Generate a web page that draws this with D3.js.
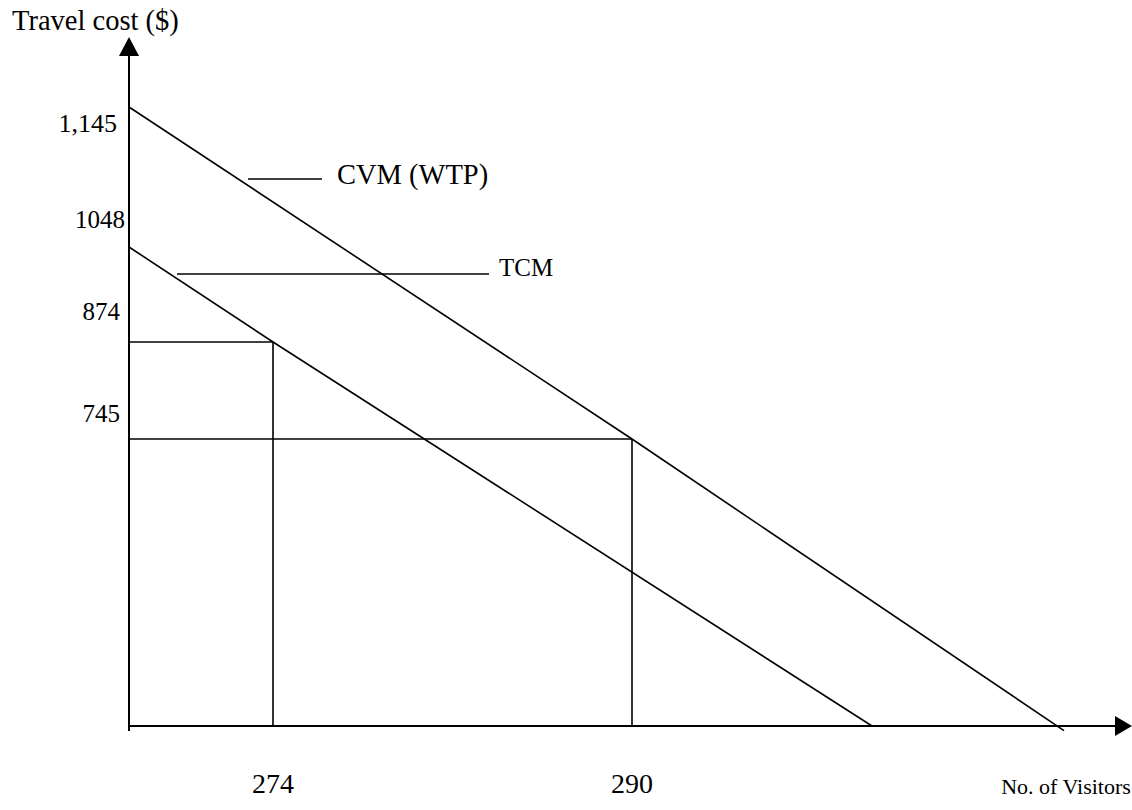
<!DOCTYPE html>
<html>
<head>
<meta charset="utf-8">
<script src="https://cdn.jsdelivr.net/npm/d3@7"></script>
<style>
  html, body { margin: 0; padding: 0; background: #fff; }
  svg { display: block; }
  text { font-family: "Liberation Serif", "Times New Roman", serif; fill: #000; }
</style>
</head>
<body>
<svg id="chart" width="1132" height="810"></svg>
<script>
// ---- data ----
const priceTicks = [1145, 1048, 874, 745];
const priceTickLabels = ["1,145", "1048", "874", "745"];
const visitorTicks = [274, 290];
const visitorTickLabels = ["274", "290"];
// demand curves (schematic): [visitors, travel cost]
const cvmCurve = [[0, 1145], [290, 745], [315, -12]];
const tcmCurve = [[0, 1048], [274, 874], [305, 0]];
const seriesNames = ["CVM (WTP)", "TCM"];
const axisTitles = { y: "Travel cost ($)", x: "No. of Visitors" };

// ---- layout (schematic, piecewise scales) ----
const svg = d3.select("#chart");
const x = d3.scaleLinear()
  .domain([0, 274, 290, 305, 315])
  .range([129, 273, 632, 872, 1064]);
const y = d3.scaleLinear()
  .domain([0, 745, 874, 1048, 1145])
  .range([726, 439, 342, 247, 107]);

const line = d3.line().x(d => x(d[0])).y(d => y(d[1]));

// axes
svg.append("line").attr("x1", x(0)).attr("x2", 1118).attr("y1", y(0)).attr("y2", y(0))
  .attr("stroke", "#000").attr("stroke-width", 2);
svg.append("line").attr("x1", x(0)).attr("x2", x(0)).attr("y1", y(0) + 5).attr("y2", 52)
  .attr("stroke", "#000").attr("stroke-width", 2);
// arrowheads
svg.append("path").attr("d", `M${x(0)},37 L${x(0) - 10},56 L${x(0) + 10},56 Z`).attr("fill", "#000");
svg.append("path").attr("d", `M1132,${y(0)} L1115,${y(0) - 10} L1115,${y(0) + 10} Z`).attr("fill", "#000");

// reference rectangles (price/quantity guides)
const guides = [[274, 874], [290, 745]];
guides.forEach(([q, p]) => {
  svg.append("line").attr("x1", x(0)).attr("x2", x(q)).attr("y1", y(p)).attr("y2", y(p))
    .attr("stroke", "#000").attr("stroke-width", 1.6);
  svg.append("line").attr("x1", x(q)).attr("x2", x(q)).attr("y1", y(p)).attr("y2", y(0))
    .attr("stroke", "#000").attr("stroke-width", 1.6);
});

// demand curves
[cvmCurve, tcmCurve].forEach(c => {
  svg.append("path").attr("d", line(c)).attr("fill", "none")
    .attr("stroke", "#000").attr("stroke-width", 1.6);
});

// y tick labels
const yLabelOffsets = [25, -19, -22, -17];
const yLabelRight = [117, 125, 120, 120];
priceTicks.forEach((v, i) => {
  svg.append("text").attr("x", yLabelRight[i]).attr("y", y(v) + yLabelOffsets[i])
    .attr("text-anchor", "end").attr("font-size", i === 0 ? 26 : 25).text(priceTickLabels[i]);
});

// x tick labels
visitorTicks.forEach((v, i) => {
  svg.append("text").attr("x", x(v)).attr("y", 793)
    .attr("text-anchor", "middle").attr("font-size", 28).text(visitorTickLabels[i]);
});

// axis titles
svg.append("text").attr("x", 12).attr("y", 30).attr("font-size", 28.5).text(axisTitles.y);
svg.append("text").attr("x", 1066).attr("y", 794).attr("text-anchor", "middle")
  .attr("font-size", 22).text(axisTitles.x);

// series labels with leaders
svg.append("line").attr("x1", 248).attr("x2", 322).attr("y1", 179).attr("y2", 179)
  .attr("stroke", "#000").attr("stroke-width", 1.6);
svg.append("text").attr("x", 337).attr("y", 184).attr("font-size", 28.5).text(seriesNames[0]);
svg.append("line").attr("x1", 177).attr("x2", 489).attr("y1", 274).attr("y2", 274)
  .attr("stroke", "#000").attr("stroke-width", 1.6);
svg.append("text").attr("x", 499).attr("y", 276).attr("font-size", 25).text(seriesNames[1]);
</script>
</body>
</html>
